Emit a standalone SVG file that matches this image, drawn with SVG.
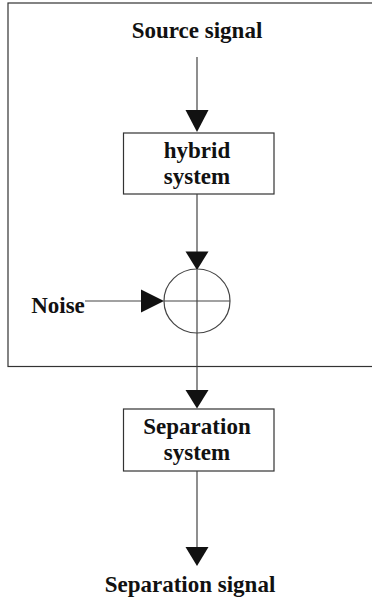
<svg xmlns="http://www.w3.org/2000/svg" width="372" height="599" viewBox="0 0 372 599">
<style>
.t{font-family:"Liberation Serif","Times New Roman",serif;font-weight:bold;font-size:23px;fill:#111;text-anchor:middle}
.b{fill:#fff;stroke:#333;stroke-width:1.2}
.c{stroke:#444;stroke-width:1.2;fill:none}
.a{fill:#111}
</style>
<rect width="372" height="599" fill="#fff"/>
<g id="frame"><rect x="8" y="3" width="370" height="363.5" class="b"/></g>
<g id="source"><text class="t" x="197" y="38">Source signal</text></g>
<g id="hybrid"><rect x="123.5" y="133" width="150.5" height="61" class="b"/><text class="t" x="197" y="158">hybrid</text><text class="t" x="197" y="184">system</text></g>
<g id="sum"><ellipse cx="197" cy="301" rx="33" ry="32" class="c"/><line x1="164" y1="301" x2="230" y2="301" class="c"/></g>
<g id="noise"><text class="t" x="58" y="313">Noise</text></g>
<g id="separation"><rect x="123.5" y="409" width="150.5" height="62" class="b"/><text class="t" x="197" y="434">Separation</text><text class="t" x="197" y="460">system</text></g>
<g id="output"><text class="t" x="190" y="592">Separation signal</text></g>
<g id="connectors">
<line x1="197" y1="57" x2="197" y2="112" class="c"/><path d="M185.5 110 L208.5 110 L197 132 Z" class="a"/>
<line x1="197" y1="194" x2="197" y2="253" class="c"/><path d="M185.5 251.5 L208.5 251.5 L197 270 Z" class="a"/>
<line x1="197" y1="270" x2="197" y2="392" class="c"/><path d="M185.5 390 L208.5 390 L197 408.5 Z" class="a"/>
<line x1="85" y1="301" x2="143" y2="301" class="c"/><path d="M141 289.5 L141 312.5 L164 301 Z" class="a"/>
<line x1="197" y1="471" x2="197" y2="549" class="c"/><path d="M185.5 547 L208.5 547 L197 566 Z" class="a"/>
</g>
</svg>
